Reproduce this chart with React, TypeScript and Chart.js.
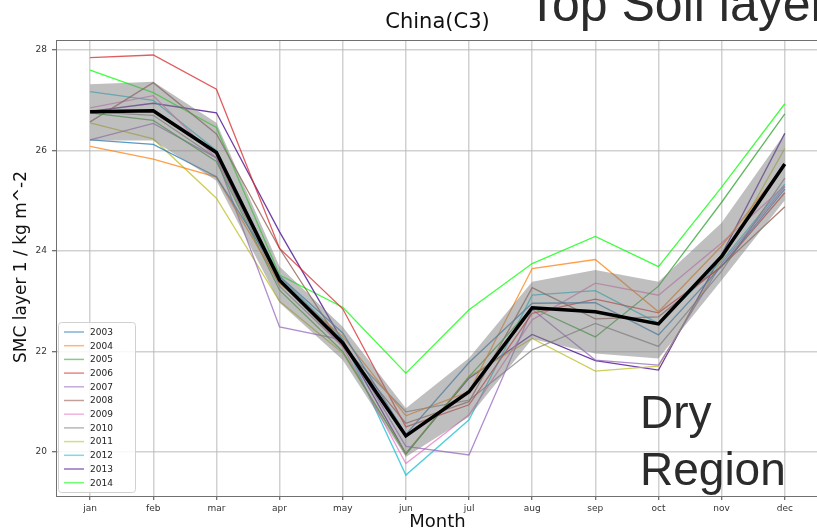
import { useEffect, useRef } from "react";
import { Chart, registerables } from "chart.js";

Chart.register(...registerables);

const months = ["jan", "feb", "mar", "apr", "may", "jun", "jul", "aug", "sep", "oct", "nov", "dec"];
const years = ["2003", "2004", "2005", "2006", "2007", "2008", "2009", "2010", "2011", "2012", "2013", "2014"];
const yTicks = [20, 22, 24, 26, 28];

const s2003 = [26.21, 26.12, 25.48, 23.5, 22.37, 20.35, 21.78, 22.96, 22.97, 22.33, 23.7, 25.23];
const s2004 = [26.08, 25.83, 25.47, 23.35, 22.3, 20.72, 21.2, 23.65, 23.83, 22.79, 24.1, 25.72];
const s2005 = [26.75, 26.6, 25.78, 23.22, 22.0, 19.95, 21.5, 22.87, 22.29, 23.3, 24.97, 26.73];
const s2006 = [27.85, 27.9, 27.22, 24.05, 22.85, 20.5, 20.94, 22.76, 23.04, 22.77, 23.69, 25.16];
const s2007 = [26.21, 26.54, 25.85, 22.49, 22.23, 20.11, 19.94, 22.84, 21.83, 21.73, 23.75, 25.28];
const s2008 = [26.57, 27.35, 26.33, 24.05, 22.1, 20.57, 21.0, 23.27, 22.65, 22.69, 23.7, 24.88];
const s2009 = [26.85, 27.09, 25.85, 23.4, 22.1, 19.77, 20.74, 22.63, 23.36, 23.12, 24.16, 25.3];
const s2010 = [26.77, 26.7, 25.85, 23.3, 22.1, 20.8, 21.03, 22.03, 22.56, 22.1, 23.6, 25.45];
const s2011 = [26.55, 26.23, 25.05, 23.0, 21.97, 19.97, 21.5, 22.26, 21.61, 21.71, 23.82, 26.04];
const s2012 = [27.17, 27.0, 26.0, 23.49, 22.25, 19.54, 20.64, 23.12, 23.21, 22.56, 23.8, 25.33];
const s2013 = [26.78, 26.94, 26.75, 24.38, 22.2, 19.97, 21.47, 22.34, 21.82, 21.63, 23.93, 26.34];
const s2014 = [27.6, 27.15, 26.46, 23.52, 22.88, 21.57, 22.83, 23.75, 24.29, 23.69, 25.27, 26.93];

const meanValues = [26.77, 26.79, 25.96, 23.42, 22.17, 20.32, 21.2, 22.87, 22.79, 22.55, 23.89, 25.73];
const bandUpper = [27.32, 27.37, 26.55, 23.69, 22.49, 20.87, 21.87, 23.39, 23.62, 23.39, 24.56, 26.34];
const bandLower = [26.2, 26.2, 25.4, 22.97, 21.83, 19.9, 20.7, 22.25, 21.96, 21.86, 23.42, 25.01];

const yearSeries = [s2003, s2004, s2005, s2006, s2007, s2008, s2009, s2010, s2011, s2012, s2013, s2014];
const yearColors = [
  "rgba(31,119,180,0.75)",
  "rgba(255,127,14,0.75)",
  "rgba(44,160,44,0.75)",
  "rgba(214,39,40,0.75)",
  "rgba(148,103,189,0.75)",
  "rgba(140,86,75,0.75)",
  "rgba(227,119,194,0.75)",
  "rgba(127,127,127,0.75)",
  "rgba(188,189,34,0.75)",
  "rgba(23,190,207,0.75)",
  "rgba(75,15,145,0.8)",
  "rgba(0,255,0,0.75)",
];

const FONT = "'DejaVu Sans', sans-serif";

const toPts = (arr: number[]) => arr.map((v, i) => ({ x: i, y: v }));

const overlayPlugin = {
  id: "overlay",
  afterDraw(chart: any) {
    const ctx = chart.ctx as CanvasRenderingContext2D;
    const a = chart.chartArea;
    ctx.save();
    // frame
    ctx.strokeStyle = "#707070";
    ctx.lineWidth = 1;
    ctx.strokeRect(a.left + 0.5, a.top + 0.5, a.right - a.left, a.bottom - a.top);

    // legend
    const lx = 58, ly = 322, lw = 77, lh = 170;
    ctx.fillStyle = "rgba(255,255,255,0.85)";
    ctx.strokeStyle = "#d0d0d0";
    ctx.lineWidth = 1;
    ctx.beginPath();
    (ctx as any).roundRect(lx + 0.5, ly + 0.5, lw, lh, 3);
    ctx.fill();
    ctx.stroke();
    const items = chart.data.datasets.filter((d: any) => d.isYear);
    ctx.font = `9px ${FONT}`;
    ctx.textBaseline = "middle";
    ctx.textAlign = "left";
    items.forEach((d: any, i: number) => {
      const y = ly + 10 + i * 13.7;
      ctx.strokeStyle = d.borderColor;
      ctx.globalAlpha = 0.75;
      ctx.lineWidth = 1.5;
      ctx.beginPath();
      ctx.moveTo(lx + 6, y);
      ctx.lineTo(lx + 26, y);
      ctx.stroke();
      ctx.globalAlpha = 1;
      ctx.fillStyle = "#222";
      ctx.fillText(d.label, lx + 32, y + 0.5);
    });

    // titles
    ctx.fillStyle = "#111";
    ctx.textAlign = "center";
    ctx.textBaseline = "alphabetic";
    ctx.font = `21px ${FONT}`;
    ctx.fillText("China(C3)", (a.left + 819) / 2, 28);

    ctx.font = `18px ${FONT}`;
    ctx.textBaseline = "middle";
    ctx.fillText("Month", (a.left + 819) / 2, 522);

    ctx.save();
    ctx.translate(22, 267);
    ctx.rotate(-Math.PI / 2);
    ctx.font = `17px ${FONT}`;
    ctx.fillText("SMC layer 1 / kg m^-2", 0, 0);
    ctx.restore();

    ctx.fillStyle = "#2b2b2b";
    ctx.textAlign = "left";
    ctx.textBaseline = "alphabetic";
    ctx.font = `50px 'Liberation Sans', sans-serif`;
    ctx.fillText("Top Soil layer", 527, 21);

    ctx.font = `46px 'Liberation Sans', sans-serif`;
    ctx.fillText("Dry", 640, 428);
    ctx.fillText("Region", 640, 485);
    ctx.restore();
  },
};

export default function App() {
  const ref = useRef<HTMLCanvasElement | null>(null);

  useEffect(() => {
    if (!ref.current) return;
    const datasets: any[] = [];
    yearSeries.forEach((s, i) => {
      datasets.push({
        label: years[i],
        isYear: true,
        data: toPts(s),
        borderColor: yearColors[i],
        borderWidth: 1.3,
        pointRadius: 0,
        fill: false,
        order: 2,
      });
    });
    datasets.push({
      label: "upper",
      data: toPts(bandUpper),
      borderWidth: 0,
      borderColor: "rgba(0,0,0,0)",
      pointRadius: 0,
      fill: false,
      order: 1,
    });
    datasets.push({
      label: "lower",
      data: toPts(bandLower),
      borderWidth: 0,
      borderColor: "rgba(0,0,0,0)",
      backgroundColor: "rgba(128,128,128,0.5)",
      pointRadius: 0,
      fill: "-1",
      order: 1,
    });
    datasets.push({
      label: "mean",
      data: toPts(meanValues),
      borderColor: "#000",
      borderWidth: 3.5,
      pointRadius: 0,
      fill: false,
      order: 0,
    });

    const chart = new Chart(ref.current, {
      type: "line",
      data: { datasets },
      options: {
        responsive: false,
        animation: false,
        devicePixelRatio: 1,
        layout: { padding: { top: 40, right: 0, left: 0, bottom: 0 } },
        plugins: {
          legend: { display: false },
          title: { display: false },
          tooltip: { enabled: false },
        },
        scales: {
          x: {
            type: "linear",
            min: -0.54,
            max: 11.51,
            afterBuildTicks: (s: any) => {
              s.ticks = months.map((_, i) => ({ value: i }));
            },
            afterFit: (s: any) => {
              s.height = 36;
            },
            ticks: {
              callback: (v: any) => months[v as number],
              font: { size: 9, family: FONT },
              color: "#333",
              padding: 3,
              maxRotation: 0,
              autoSkip: false,
            },
            grid: {
              color: "rgba(185,185,185,0.65)",
              lineWidth: 1.5,
              tickLength: 4,
              tickColor: "#444",
              tickWidth: 1,
            },
            border: { color: "#707070", width: 1 },
          },
          y: {
            type: "linear",
            min: 19.124,
            max: 28.199,
            afterBuildTicks: (s: any) => {
              s.ticks = yTicks.map((v) => ({ value: v }));
            },
            afterFit: (s: any) => {
              s.width = 56;
            },
            ticks: {
              font: { size: 9, family: FONT },
              color: "#333",
              padding: 5,
            },
            grid: {
              color: "rgba(185,185,185,0.65)",
              lineWidth: 1.5,
              tickLength: 4,
              tickColor: "#444",
              tickWidth: 1,
            },
            border: { color: "#707070", width: 1 },
          },
        },
      } as any,
      plugins: [overlayPlugin],
    });
    return () => chart.destroy();
  }, []);

  return (
    <div style={{ position: "fixed", left: 0, top: 0, width: 817, height: 532, background: "#fff" }}>
      <canvas ref={ref} width={817} height={532} style={{ display: "block" }} />
    </div>
  );
}
